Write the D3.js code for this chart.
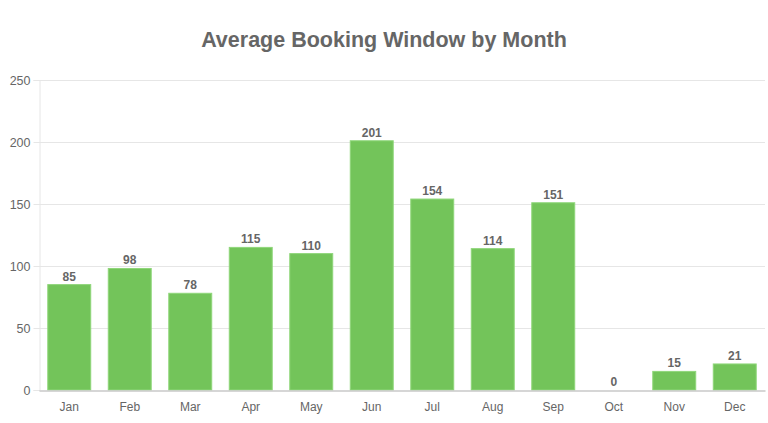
<!DOCTYPE html>
<html><head><meta charset="utf-8">
<script src="https://cdn.jsdelivr.net/npm/d3@7"></script>
<style>body{margin:0;background:#fff;}svg{display:block;font-family:"Liberation Sans",Arial,sans-serif;}</style>
</head><body><svg id="c" width="768" height="423"></svg>
<script>
const months = ["Jan","Feb","Mar","Apr","May","Jun","Jul","Aug","Sep","Oct","Nov","Dec"];
const values = [85,98,78,115,110,201,154,114,151,0,15,21];
const yTicks = [0,50,100,150,200,250];
const title = "Average Booking Window by Month";

(function(){
const svg = d3.select("#c");
const pLeft = 39, pRight = 765, pTop = 80, pBottom = 390;
const x = d3.scaleBand().domain(months).range([pLeft, pRight]).paddingInner(0.29).paddingOuter(0.145);
const y = d3.scaleLinear().domain([0,250]).range([pBottom, pTop]);

svg.append("text").attr("x",384).attr("y",47).attr("text-anchor","middle")
  .attr("font-size",21.5).attr("font-weight","bold").attr("fill","#666").text(title);

// grid
svg.append("g").selectAll("line").data(yTicks.filter(d=>d>0)).join("line")
  .attr("x1",pLeft).attr("x2",pRight).attr("y1",d=>y(d)+0.5).attr("y2",d=>y(d)+0.5)
  .attr("stroke","#e6e6e6");

// y axis
const ya = svg.append("g").attr("transform",`translate(${pLeft+0.5},0)`)
  .call(d3.axisLeft(y).tickValues(yTicks).tickSize(6).tickPadding(3));
ya.select(".domain").attr("stroke","#e6e6e6");
ya.selectAll(".tick line").attr("stroke","#e6e6e6");
ya.selectAll(".tick text").attr("fill","#666").attr("font-size",12.5).attr("font-family","Liberation Sans, Arial, sans-serif");

// bars
svg.append("g").selectAll("rect").data(values).join("rect")
  .attr("x",(d,i)=>x(months[i])).attr("width",x.bandwidth())
  .attr("y",d=>y(d)).attr("height",d=>pBottom-y(d))
  .attr("fill","#73c45a").attr("stroke","#8fd67a").attr("stroke-width",1);

// x axis
const xa = svg.append("g").attr("transform",`translate(0,${pBottom+0.5})`)
  .call(d3.axisBottom(x).tickSize(0).tickPadding(12));
xa.select(".domain").attr("stroke","#c8c8c8").attr("stroke-width",1.5);
xa.selectAll(".tick text").attr("fill","#666").attr("font-size",12).attr("font-family","Liberation Sans, Arial, sans-serif");

// labels
svg.append("g").selectAll("text").data(values).join("text")
  .attr("x",(d,i)=>x(months[i])+x.bandwidth()/2).attr("y",d=>y(d)-4)
  .attr("text-anchor","middle").attr("font-size",12).attr("font-weight","bold").attr("fill","#666")
  .text(d=>d);
})();
</script></body></html>
